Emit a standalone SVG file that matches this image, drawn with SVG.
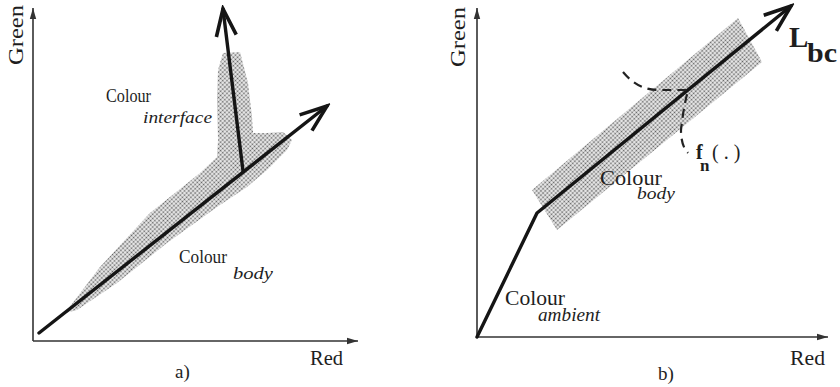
<svg xmlns="http://www.w3.org/2000/svg" width="840" height="387" viewBox="0 0 840 387">
<style>
.ax{stroke:#333;stroke-width:1.6;fill:none}
.ln{stroke:#151515;stroke-width:3.4;fill:none;stroke-linecap:round}
.band{fill:url(#dots)}
.t{font-family:"Liberation Serif","Times New Roman",serif;fill:#1e1e1e}
.i{font-style:italic}
.dash{stroke:#222;stroke-width:2.2;fill:none;stroke-dasharray:9 6}
</style>
<defs>
<pattern id="dots" width="3" height="3" patternUnits="userSpaceOnUse" patternTransform="rotate(45)">
<rect width="3" height="3" fill="#efefef"/>
<circle cx="1.5" cy="1.5" r="0.95" fill="#606060"/>
</pattern>
<marker id="open" viewBox="-32 -16 36 32" refX="0" refY="0" markerWidth="36" markerHeight="32" orient="auto" markerUnits="userSpaceOnUse">
<path d="M-27,-10 L0,0 L-27,10" fill="none" stroke="#151515" stroke-width="3.6" stroke-linejoin="miter"/>
</marker>
<marker id="tri" viewBox="-12 -5 14 10" refX="0" refY="0" markerWidth="14" markerHeight="10" orient="auto" markerUnits="userSpaceOnUse">
<path d="M-11,-3.2 L0,0 L-11,3.2 z" fill="#333"/>
</marker>
</defs>

<g id="panel-a">
<g id="a-band">
<path class="band" d="M65,313 L100,267 L150,213 L200,173 L217,157 L218,140 L217,100 L218,70 L223,53 L240,52 L248,83 L252,117 L253,133 L267,133 L283,132 L292,140 L287,150 L267,170 L247,187 L217,207 L167,243 L117,283 L77,310 Z"/>
</g>
<g id="a-axes">
<line class="ax" x1="33" y1="341" x2="33" y2="8" marker-end="url(#tri)"/>
<line class="ax" x1="33" y1="341" x2="358" y2="341" marker-end="url(#tri)"/>
</g>
<g id="a-connectors">
<line class="ln" x1="39" y1="333" x2="327" y2="106" marker-end="url(#open)"/>
<line class="ln" x1="243" y1="171" x2="223" y2="9" marker-end="url(#open)"/>
</g>
<g id="a-labels">
<text class="t" x="23" y="65" font-size="21" textLength="60" lengthAdjust="spacingAndGlyphs" transform="rotate(-90 23 65)">Green</text>
<text class="t" x="310" y="365" font-size="20" textLength="33" lengthAdjust="spacingAndGlyphs">Red</text>
<text class="t" x="175" y="378" font-size="19">a)</text>
<g id="a-colour-interface">
<text class="t" font-size="18"><tspan x="106" y="102" textLength="45" lengthAdjust="spacingAndGlyphs">Colour</tspan><tspan class="i" x="143" y="123" font-size="16" textLength="69" lengthAdjust="spacingAndGlyphs">interface</tspan></text>
</g>
<g id="a-colour-body">
<text class="t" font-size="18"><tspan x="179" y="263" textLength="48" lengthAdjust="spacingAndGlyphs">Colour</tspan><tspan class="i" x="233" y="279" font-size="16" textLength="40" lengthAdjust="spacingAndGlyphs">body</tspan></text>
</g>
</g>
</g>

<g id="panel-b">
<g id="b-band">
<path class="band" d="M532,190 L738,18 L762,62 L557,230 Z"/>
</g>
<g id="b-axes">
<line class="ax" x1="477" y1="337" x2="477" y2="8" marker-end="url(#tri)"/>
<line class="ax" x1="477" y1="337" x2="828" y2="337" marker-end="url(#tri)"/>
</g>
<g id="b-connectors">
<polyline class="ln" points="477,337 537,213 791,6" marker-end="url(#open)" stroke-linejoin="round"/>
<path class="dash" d="M623,72 Q638,90 658,90 L688,90 Q683,110 681,130 Q681,146 688,153"/>
</g>
<g id="b-labels">
<text class="t" x="465" y="67" font-size="21" textLength="60" lengthAdjust="spacingAndGlyphs" transform="rotate(-90 465 67)">Green</text>
<text class="t" x="790" y="365" font-size="20" textLength="35" lengthAdjust="spacingAndGlyphs">Red</text>
<text class="t" x="658" y="380" font-size="19">b)</text>
<g id="b-lbc">
<text class="t" font-weight="bold"><tspan x="789" y="47" font-size="29">L</tspan><tspan x="807" y="62" font-size="28" textLength="30" lengthAdjust="spacingAndGlyphs">bc</tspan></text>
</g>
<g id="b-fn">
<text class="t" font-size="20"><tspan x="696" y="159" font-weight="bold">f</tspan><tspan x="700" y="171" font-size="17" font-weight="bold">n</tspan><tspan x="712" y="159">( . )</tspan></text>
</g>
<g id="b-colour-body">
<text class="t" font-size="21"><tspan x="600" y="185" textLength="62" lengthAdjust="spacingAndGlyphs">Colour</tspan><tspan class="i" x="637" y="199" font-size="17" textLength="38" lengthAdjust="spacingAndGlyphs">body</tspan></text>
</g>
<g id="b-colour-ambient">
<text class="t" font-size="21"><tspan x="505" y="305" textLength="60" lengthAdjust="spacingAndGlyphs">Colour</tspan><tspan class="i" x="538" y="321" font-size="18" textLength="62" lengthAdjust="spacingAndGlyphs">ambient</tspan></text>
</g>
</g>
</g>
</svg>
